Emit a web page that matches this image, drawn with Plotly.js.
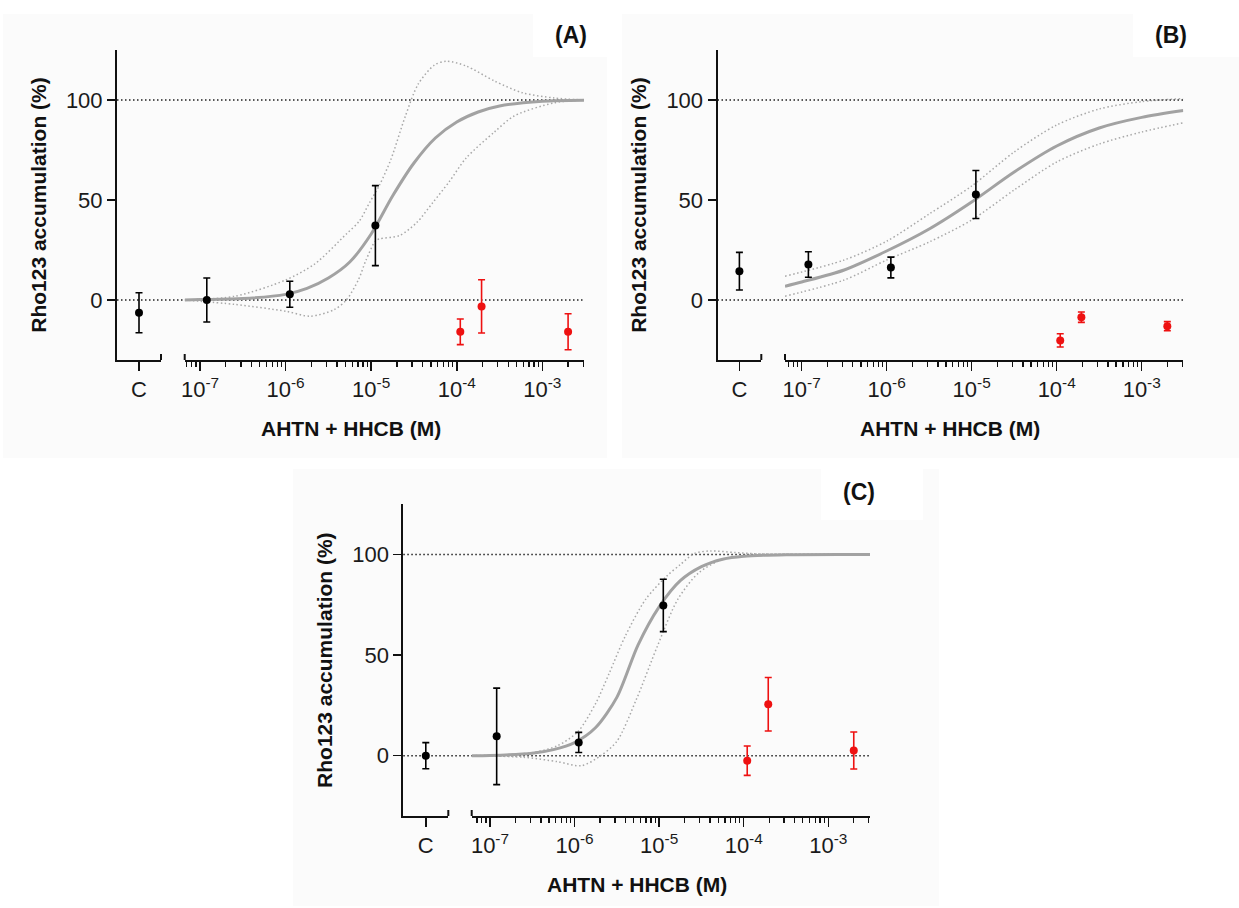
<!DOCTYPE html>
<html><head><meta charset="utf-8">
<script src="https://cdn.plot.ly/plotly-3.0.1.min.js"></script>
<style>html,body{margin:0;padding:0;background:#fff}#chart{width:1239px;height:908px}</style>
</head><body><div id="chart"></div>
<script>
// ---------- data ----------
const controlLabel = ['C'];
const blackDose = [1.2e-7, 1.12e-6, 1.12e-5];
const redDose = [1.1e-4, 1.95e-4, 2e-3];
const decadeTicks = [1e-7, 1e-6, 1e-5, 1e-4, 1e-3];
const decadeLabels = ['10<sup>-7</sup>', '10<sup>-6</sup>', '10<sup>-5</sup>', '10<sup>-4</sup>', '10<sup>-3</sup>'];
const minorTicks = [6e-8, 7e-8, 8e-8, 9e-8,
  2e-7, 3e-7, 4e-7, 5e-7, 6e-7, 7e-7, 8e-7, 9e-7,
  2e-6, 3e-6, 4e-6, 5e-6, 6e-6, 7e-6, 8e-6, 9e-6,
  2e-5, 3e-5, 4e-5, 5e-5, 6e-5, 7e-5, 8e-5, 9e-5,
  2e-4, 3e-4, 4e-4, 5e-4, 6e-4, 7e-4, 8e-4, 9e-4,
  2e-3, 3e-3];
const yTicks = [0, 50, 100];
const panelLabels = ['(A)', '(B)', '(C)'];
const yTitle = 'Rho123 accumulation (%)';
const xTitle = 'AHTN + HHCB (M)';

// Panel A
const ctrlA = [-6.4], ctrlErrA = [10];
const blackA = [0, 2.9, 37.2], blackErrA = [11, 6.5, 20];
const redA = [-15.9, -3.2, -15.9], redErrA = [6.4, 13.3, 9];
const fitLogA = [-7.18, -7, -6.5, -6, -5.75, -5.5, -5.25, -5, -4.75, -4.5, -4.25, -4, -3.75, -3.5, -3, -2.513];
const fitA = [0, 0.2, 0.7, 2.8, 5.8, 11, 19, 33, 52, 68.5, 81, 89, 94, 97, 99.4, 99.9];
const upLogA = [-7.18, -6.59, -6, -5.66, -5.29, -5.14, -5.02, -4.9, -4.77, -4.6, -4.45, -4.26, -4.12, -3.89, -3.56, -3.23, -2.86, -2.513];
const upA = [0, 1.9, 10, 18, 33, 39.4, 48.6, 57.7, 70.2, 92, 108, 117.5, 119.4, 117, 109.5, 103.6, 101, 100];
const loLogA = [-7.18, -6.59, -6, -5.71, -5.43, -5.29, -5.15, -5.06, -4.95, -4.9, -4.67, -4.47, -4.28, -4.09, -3.89, -3.56, -3.33, -2.86, -2.513];
const loA = [0, -2.2, -5.6, -8.1, -4.8, 0, 10, 20, 29.5, 30.6, 32.2, 38.6, 48.7, 59, 71, 84, 92, 98.6, 100];

// Panel B
const ctrlB = [14.4], ctrlErrB = [9.4];
const blackB = [17.75, 16.25, 52.75], blackErrB = [6.4, 5.2, 12];
const redB = [-20.2, -8.6, -13.1], redErrB = [3.3, 2.6, 2.3];
const fitLogB = [-7.196, -7, -6.5, -6, -5.5, -5, -4.5, -4, -3.5, -3, -2.511];
const fitB = [6.9, 9, 15, 24.5, 35.5, 49, 64, 77, 86, 91.3, 94.7];
const upLogB = [-7.196, -6.5, -6, -5.5, -5, -4.5, -4, -3.5, -3, -2.511];
const upB = [11.9, 20, 29.4, 43, 57, 74, 87.5, 95.5, 99.2, 100.7];
const loLogB = [-7.196, -6.5, -6, -5.5, -5, -4.5, -4, -3.5, -3, -2.511];
const loB = [1.9, 10, 20, 29, 40, 55, 69, 78, 84, 88.6];

// Panel C
const ctrlC = [0], ctrlErrC = [6.5];
const blackC = [9.6, 6.6, 74.7], blackErrC = [24, 5, 13];
const redC = [-2.5, 25.6, 2.6], redErrC = [7.3, 13.3, 9.2];
const fitLogC = [-7.216, -7, -6.5, -6.25, -6, -5.75, -5.5, -5.25, -5, -4.75, -4.5, -4.25, -4, -3.5, -2.507];
const fitC = [0, 0.1, 1.2, 3, 6.5, 14, 29, 55, 74, 87, 94, 97.7, 99.2, 99.9, 100];
const upLogC = [-7.216, -6.5, -6.2, -5.96, -5.75, -5.59, -5.4, -5.16, -4.91, -4.75, -4.58, -4.39, -4.1, -3.8, -2.507];
const upC = [0, 1.5, 5, 12, 26, 41, 59.5, 77.7, 89.3, 95, 100.6, 101.8, 101, 100.3, 100];
const loLogC = [-7.216, -6.6, -6.2, -5.92, -5.69, -5.5, -5.27, -5.02, -4.78, -4.53, -4.24, -3.8, -3.5, -2.507];
const loC = [0, -0.8, -3, -5, 0, 7.1, 27.9, 54.5, 77.7, 91, 97.7, 99.5, 99.9, 100];

// ---------- layout geometry (pixels of the 1239x908 page) ----------
const W = 1239, H = 908;
const panels = [
  {yTop: 50, yBot: 360, yAxisX: 117, cEnd: 161, logStart: 184.7, logEnd: 584, range: [-7.179, -2.513],
   label: [571, 35], bg: [3, 14, 607, 458], bgCut: [533, 0, 607, 57],
   ctrl: ctrlA, ctrlErr: ctrlErrA, black: blackA, blackErr: blackErrA, red: redA, redErr: redErrA,
   fitLog: fitLogA, fit: fitA, upLog: upLogA, up: upA, loLog: loLogA, lo: loA},
  {yTop: 50, yBot: 360, yAxisX: 717.5, cEnd: 761.3, logStart: 785, logEnd: 1183.3, range: [-7.196, -2.511],
   label: [1171, 35], bg: [622, 14, 1239, 458], bgCut: [1133, 0, 1239, 57],
   ctrl: ctrlB, ctrlErr: ctrlErrB, black: blackB, blackErr: blackErrB, red: redB, redErr: redErrB,
   fitLog: fitLogB, fit: fitB, upLog: upLogB, up: upB, loLog: loLogB, lo: loB},
  {yTop: 504.3, yBot: 816, yAxisX: 403.3, cEnd: 448.3, logStart: 471.7, logEnd: 870, range: [-7.216, -2.507],
   label: [859, 492], bg: [293, 469, 939, 906], bgCut: [821, 469, 923, 520],
   ctrl: ctrlC, ctrlErr: ctrlErrC, black: blackC, blackErr: blackErrC, red: redC, redErr: redErrC,
   fitLog: fitLogC, fit: fitC, upLog: upLogC, up: upC, loLog: loLogC, lo: loC}
];

const FONT = 'Liberation Sans, Arial, sans-serif';
const AX = '#111111';
const FIT = '#a2a2a2';
const CI = '#a8a8a8';
const RED = '#ee1111';
const toDose = a => a.map(v => Math.pow(10, v));

const traces = [];
const layout = {
  width: W, height: H,
  margin: {l: 0, r: 0, t: 0, b: 0},
  paper_bgcolor: '#ffffff', plot_bgcolor: 'rgba(0,0,0,0)',
  showlegend: false,
  font: {family: FONT, color: AX},
  shapes: [], annotations: []
};

panels.forEach((p, i) => {
  const n = i * 2 + 1;
  const xc = 'x' + (n === 1 ? '' : n), xl = 'x' + (n + 1);
  const yk = 'y' + (i === 0 ? '' : i + 1);
  const xcKey = 'xaxis' + (n === 1 ? '' : n), xlKey = 'xaxis' + (n + 1);
  const ykKey = 'yaxis' + (i === 0 ? '' : i + 1);
  const yDom = [1 - p.yBot / H, 1 - p.yTop / H];

  layout[ykKey] = {
    domain: yDom, range: [-30, 125], anchor: xc,
    tickmode: 'array', tickvals: yTicks, ticks: 'outside', ticklen: 8, tickwidth: 1.5, tickcolor: AX,
    showline: true, linewidth: 2, linecolor: AX, showgrid: false, zeroline: false,
    tickfont: {family: FONT, size: 22, color: '#1a1a1a'},
    title: {text: yTitle, font: {family: FONT, size: 21, weight: 'bold', color: AX}, standoff: 14},
    fixedrange: true
  };
  layout[xcKey] = {
    domain: [p.yAxisX / W, p.cEnd / W], range: [-1, 1], anchor: yk,
    tickmode: 'array', tickvals: [0], ticktext: controlLabel,
    ticks: 'outside', ticklen: 9, tickwidth: 1.5, tickcolor: AX,
    showline: true, linewidth: 2, linecolor: AX, showgrid: false, zeroline: false,
    tickfont: {family: FONT, size: 22, color: '#1a1a1a'}, fixedrange: true
  };
  layout[xlKey] = {
    type: 'log', domain: [p.logStart / W, p.logEnd / W], range: p.range, anchor: yk,
    tickmode: 'array', tickvals: decadeTicks, ticktext: decadeLabels,
    ticks: 'outside', ticklen: 9, tickwidth: 1.5, tickcolor: AX,
    minor: {tickmode: 'array', tickvals: minorTicks, ticks: 'outside', ticklen: 5, tickwidth: 1.3, tickcolor: AX, showgrid: false},
    showline: true, linewidth: 2, linecolor: AX, showgrid: false, zeroline: false,
    tickfont: {family: FONT, size: 22, color: '#1a1a1a'}, fixedrange: true
  };

  // faint panel background
  layout.shapes.push({type: 'rect', xref: 'paper', yref: 'paper', layer: 'below',
    x0: p.bg[0] / W, x1: p.bg[2] / W, y0: 1 - p.bg[3] / H, y1: 1 - p.bg[1] / H,
    fillcolor: '#fbfbfb', line: {width: 0}});
  layout.shapes.push({type: 'rect', xref: 'paper', yref: 'paper', layer: 'below',
    x0: p.bgCut[0] / W, x1: p.bgCut[2] / W, y0: 1 - p.bgCut[3] / H, y1: 1 - p.bgCut[1] / H,
    fillcolor: '#ffffff', line: {width: 0}});
  // reference lines at 0 and 100
  [0, 100].forEach(v => layout.shapes.push({type: 'line', xref: 'paper', yref: yk, layer: 'below',
    x0: p.yAxisX / W, x1: p.logEnd / W, y0: v, y1: v,
    line: {color: '#222222', width: 1.5, dash: '1.5px,2.5px'}}));
  // axis-break end caps
  layout.shapes.push({type: 'line', xref: xc + ' domain', yref: yk, ysizemode: 'pixel', yanchor: -30,
    x0: 1, x1: 1, y0: -9, y1: 6, line: {color: AX, width: 2}});
  layout.shapes.push({type: 'line', xref: xl + ' domain', yref: yk, ysizemode: 'pixel', yanchor: -30,
    x0: 0, x1: 0, y0: -9, y1: 6, line: {color: AX, width: 2}});

  // panel letter
  layout.annotations.push({text: panelLabels[i], xref: 'paper', yref: 'paper',
    x: p.label[0] / W, y: 1 - p.label[1] / H, xanchor: 'center', yanchor: 'middle', showarrow: false,
    font: {family: FONT, size: 23, weight: 'bold', color: '#111'}});
  // x title centred under both axis pieces
  layout.annotations.push({text: xTitle, xref: 'paper', yref: 'paper',
    x: ((p.yAxisX + p.logEnd) / 2) / W, y: 1 - (p.yBot + 68) / H, xanchor: 'center', yanchor: 'middle', showarrow: false,
    font: {family: FONT, size: 21, weight: 'bold', color: AX}});

  // traces
  traces.push({x: toDose(p.upLog), y: p.up, xaxis: xl, yaxis: yk, type: 'scatter', mode: 'lines',
    line: {color: CI, width: 1.5, dash: '1.5px,2.5px', shape: 'spline', smoothing: 0.8}, hoverinfo: 'skip'});
  traces.push({x: toDose(p.loLog), y: p.lo, xaxis: xl, yaxis: yk, type: 'scatter', mode: 'lines',
    line: {color: CI, width: 1.5, dash: '1.5px,2.5px', shape: 'spline', smoothing: 0.8}, hoverinfo: 'skip'});
  traces.push({x: toDose(p.fitLog), y: p.fit, xaxis: xl, yaxis: yk, type: 'scatter', mode: 'lines',
    line: {color: FIT, width: 3, shape: 'spline', smoothing: 0.8}, hoverinfo: 'skip'});
  traces.push({x: [0], y: p.ctrl, xaxis: xc, yaxis: yk, type: 'scatter', mode: 'markers',
    marker: {color: '#000', size: 8}, cliponaxis: false,
    error_y: {type: 'data', array: p.ctrlErr, color: '#000', thickness: 1.6, width: 3.5}});
  traces.push({x: blackDose, y: p.black, xaxis: xl, yaxis: yk, type: 'scatter', mode: 'markers',
    marker: {color: '#000', size: 8}, cliponaxis: false,
    error_y: {type: 'data', array: p.blackErr, color: '#000', thickness: 1.6, width: 3.5}});
  traces.push({x: redDose, y: p.red, xaxis: xl, yaxis: yk, type: 'scatter', mode: 'markers',
    marker: {color: RED, size: 8}, cliponaxis: false,
    error_y: {type: 'data', array: p.redErr, color: RED, thickness: 1.6, width: 3.5}});
});

Plotly.newPlot('chart', traces, layout, {staticPlot: true, displayModeBar: false});
</script>
</body></html>
